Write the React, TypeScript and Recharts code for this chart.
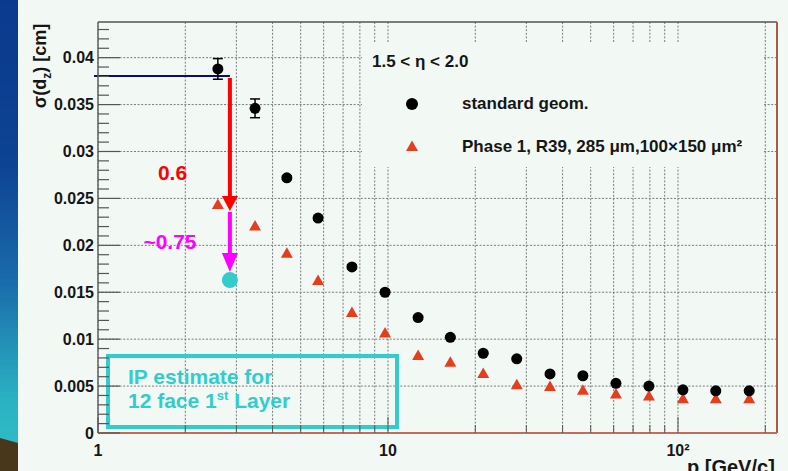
import {
  ScatterChart,
  Scatter,
  XAxis,
  YAxis,
  CartesianGrid,
  ReferenceLine,
  ReferenceArea,
  ReferenceDot,
  ErrorBar,
  Legend,
} from 'recharts';

// momentum bins [GeV/c]
const P_GEV = [2.59, 3.48, 4.48, 5.74, 7.51, 9.77, 12.7, 16.4, 21.3, 27.8, 36.2, 47.0, 61.1, 79.4, 104, 135, 176];
// sigma(d_z) [cm], standard geometry
const SIGMA_STD = [0.0388, 0.0346, 0.0272, 0.0229, 0.0177, 0.015, 0.0123, 0.0102, 0.0085, 0.0079, 0.0063, 0.0061, 0.0053, 0.005, 0.0046, 0.0045, 0.0045];
const ERR_STD = [0.0011, 0.001, 0.0002, 0.0002, 0.0002, 0.0002, 0.0002, 0.0001, 0.0001, 0.0001, 0.0001, 0.0001, 0.0001, 0.0001, 0.0001, 0.0001, 0.0001];
// sigma(d_z) [cm], Phase 1
const SIGMA_PHASE1 = [0.0244, 0.0221, 0.0192, 0.0163, 0.0129, 0.0107, 0.0083, 0.0076, 0.0064, 0.0052, 0.005, 0.0046, 0.0042, 0.004, 0.0037, 0.0037, 0.0037];

const SERIES_NAMES = ['standard geom.', 'Phase 1, R39, 285 \u03bcm,100\u00d7150 \u03bcm\u00b2'];

const X_TICKS = [1, 2, 3, 4, 5, 6, 7, 8, 9, 10, 20, 30, 40, 50, 60, 70, 80, 90, 100, 200];
const X_MAJOR = [1, 10, 100];
const X_MAJOR_LABELS = ['1', '10', '10\u00b2'];
const Y_TICKS = [
  0, 0.001, 0.002, 0.003, 0.004, 0.005, 0.006, 0.007, 0.008, 0.009, 0.01, 0.011, 0.012, 0.013, 0.014,
  0.015, 0.016, 0.017, 0.018, 0.019, 0.02, 0.021, 0.022, 0.023, 0.024, 0.025, 0.026, 0.027, 0.028,
  0.029, 0.03, 0.031, 0.032, 0.033, 0.034, 0.035, 0.036, 0.037, 0.038, 0.039, 0.04, 0.041, 0.042, 0.043,
];
const Y_MAJOR = [0, 0.005, 0.01, 0.015, 0.02, 0.025, 0.03, 0.035, 0.04];
const Y_MAJOR_LABELS = ['0', '0.005', '0.01', '0.015', '0.02', '0.025', '0.03', '0.035', '0.04'];

const X_MAX = 219.5;
const Y_MAX = 0.0438;

// annotation anchors, data coordinates
const ARROW_P = 2.85;
const NAVY_Y = 0.03805;
const NAVY_FROM_P = 0.969;
const RED_TOP = 0.03783;
const RED_BASE = 0.02515;
const RED_TIP = 0.02366;
const MAG_TOP = 0.02355;
const MAG_BASE = 0.01918;
const MAG_TIP = 0.01716;
const IP_ESTIMATE = 0.0163;
const BOX_P = [1.083, 10.74];
const BOX_Y = [0.00064, 0.00821];

const BG = '#f2f9f5';
const RED = '#e63d1d';
const CYAN = '#33cccc';
const MAGENTA = '#ff00ff';
const FONT = '"Liberation Sans", Arial, Helvetica, sans-serif';
const INK = '#161616';

const stdData = P_GEV.map((p, i) => ({ p, sigma: SIGMA_STD[i], err: ERR_STD[i] }));
const phase1Data = P_GEV.map((p, i) => ({ p, sigma: SIGMA_PHASE1[i] }));

function Dot(props: any) {
  const { cx, cy } = props;
  return <circle cx={cx} cy={cy} r={5.5} fill="#000" />;
}

function Tri(props: any) {
  const { cx, cy } = props;
  return <polygon points={`${cx},${cy - 5.5} ${cx + 6},${cy + 5} ${cx - 6},${cy + 5}`} fill={RED} />;
}

function XTick(props: any) {
  const { x, y, payload } = props;
  const idx = X_MAJOR.indexOf(payload.value);
  const len = idx >= 0 ? 16 : 8;
  return (
    <g>
      <line x1={x} y1={y} x2={x} y2={y - len} stroke="#555" strokeWidth={1} />
      {idx >= 0 && (
        <text x={x} y={y + 23} textAnchor="middle" fontFamily={FONT} fontWeight="bold" fontSize={16} fill={INK}>
          {X_MAJOR_LABELS[idx]}
        </text>
      )}
    </g>
  );
}

function YTick(props: any) {
  const { x, y, payload } = props;
  const idx = Y_MAJOR.indexOf(payload.value);
  const len = idx >= 0 ? 22 : 11;
  return (
    <g>
      <line x1={x} y1={y} x2={x + len} y2={y} stroke="#555" strokeWidth={1.2} />
      {idx >= 0 && (
        <text x={x - 4} y={y} dy="0.35em" textAnchor="end" fontFamily={FONT} fontWeight="bold" fontSize={16} fill={INK}>
          {Y_MAJOR_LABELS[idx]}
        </text>
      )}
    </g>
  );
}

function ArrowHead({ cx, cy, color, h, w }: any) {
  return <polygon points={`${cx},${cy} ${cx + w / 2},${cy - h} ${cx - w / 2},${cy - h}`} fill={color} />;
}

function LegendBox() {
  return (
    <div
      style={{
        position: 'relative',
        width: 401,
        height: 125,
        background: BG,
        fontFamily: FONT,
        fontWeight: 'bold',
        fontSize: 17,
        color: INK,
        whiteSpace: 'nowrap',
      }}
    >
      <div style={{ position: 'absolute', left: 10, top: 20, transform: 'translateY(-50%)' }}>
        1.5 &lt; &eta; &lt; 2.0
      </div>
      <svg width={20} height={20} style={{ position: 'absolute', left: 40, top: 52 }}>
        <circle cx={10} cy={10} r={6} fill="#000" />
      </svg>
      <div style={{ position: 'absolute', left: 100, top: 62, transform: 'translateY(-50%)' }}>{SERIES_NAMES[0]}</div>
      <svg width={20} height={20} style={{ position: 'absolute', left: 40, top: 94 }}>
        <polygon points="10,4.5 16,15 4,15" fill={RED} />
      </svg>
      <div style={{ position: 'absolute', left: 100, top: 105, transform: 'translateY(-50%)' }}>{SERIES_NAMES[1]}</div>
    </div>
  );
}

export default function App() {
  return (
    <div
      style={{
        position: 'absolute',
        left: 0,
        top: 0,
        width: 788,
        height: 471,
        overflow: 'hidden',
        background: BG,
      }}
    >
      <svg width={18} height={471} style={{ position: 'absolute', left: 0, top: 0 }}>
        <defs>
          <linearGradient id="slide" x1="0" y1="0" x2="0" y2="1">
            <stop offset="0" stopColor="#0a3a8d" />
            <stop offset="0.35" stopColor="#0d4393" />
            <stop offset="0.6" stopColor="#1a6cab" />
            <stop offset="0.85" stopColor="#2bb2c2" />
            <stop offset="1" stopColor="#2fbfc8" />
          </linearGradient>
        </defs>
        <rect width={18} height={471} fill="url(#slide)" />
        <polygon points="0,438 18,443 18,471 0,471" fill="#48371a" />
      </svg>

      <div style={{ position: 'absolute', left: 0, top: 0 }}>
        <ScatterChart width={788} height={471} margin={{ top: 22, right: 11, bottom: 0, left: 38 }}>
          <CartesianGrid
            yAxisId="main"
            horizontalValues={Y_MAJOR}
            stroke="#7a7a7a"
            strokeDasharray="2 1.6"
          />
          <XAxis
            type="number"
            dataKey="p"
            scale="log"
            domain={[1, X_MAX]}
            ticks={X_TICKS}
            interval={0}
            allowDataOverflow
            height={38}
            tickSize={0}
            tickMargin={0}
            tickLine={false}
            tick={(p: any) => <XTick {...p} />}
            axisLine={{ stroke: '#c26d5b', strokeWidth: 2 }}
          />
          <YAxis
            yAxisId="main"
            type="number"
            dataKey="sigma"
            domain={[0, Y_MAX]}
            ticks={Y_TICKS}
            interval={0}
            allowDataOverflow
            width={60}
            tickSize={0}
            tickMargin={0}
            tickLine={false}
            tick={(p: any) => <YTick {...p} />}
            axisLine={{ stroke: '#666', strokeWidth: 1.5 }}
          />
          <ReferenceLine yAxisId="main" y={Y_MAX} stroke="#555" strokeWidth={1.5} />
          <ReferenceLine yAxisId="main" x={X_MAX} stroke="#b05a45" strokeWidth={2} />

          <ReferenceArea
            yAxisId="main"
            x1={BOX_P[0]}
            x2={BOX_P[1]}
            y1={BOX_Y[0]}
            y2={BOX_Y[1]}
            fill="none"
            fillOpacity={0}
            stroke={CYAN}
            strokeWidth={4}
          />
          <ReferenceDot
            yAxisId="main"
            x={1.269}
            y={0.00522}
            shape={(p: any) => (
              <text x={p.cx} y={p.cy} fontFamily={FONT} fontWeight="bold" fontSize={21} fill={CYAN}>
                <tspan x={p.cx}>IP estimate for</tspan>
                <tspan x={p.cx} dy={24}>12 face 1</tspan>
                <tspan fontSize={13} dy={-8}>st</tspan>
                <tspan dy={8}> Layer</tspan>
              </text>
            )}
          />

          <ReferenceLine
            yAxisId="main"
            segment={[{ x: NAVY_FROM_P, y: NAVY_Y }, { x: ARROW_P, y: NAVY_Y }]}
            stroke="#0b0b6b"
            strokeWidth={2}
            ifOverflow="visible"
          />
          <ReferenceLine
            yAxisId="main"
            segment={[{ x: ARROW_P, y: RED_TOP }, { x: ARROW_P, y: RED_BASE }]}
            stroke="#ff0000"
            strokeWidth={4}
          />
          <ReferenceDot
            yAxisId="main"
            x={ARROW_P}
            y={RED_TIP}
            shape={(p: any) => <ArrowHead cx={p.cx} cy={p.cy} color="#ff0000" h={15} w={16} />}
          />
          <ReferenceLine
            yAxisId="main"
            segment={[{ x: ARROW_P, y: MAG_TOP }, { x: ARROW_P, y: MAG_BASE }]}
            stroke={MAGENTA}
            strokeWidth={4}
          />
          <ReferenceDot
            yAxisId="main"
            x={ARROW_P}
            y={MAG_TIP}
            shape={(p: any) => <ArrowHead cx={p.cx} cy={p.cy} color={MAGENTA} h={19} w={16} />}
          />
          <ReferenceDot yAxisId="main" x={ARROW_P} y={IP_ESTIMATE} r={8} fill={CYAN} stroke="none" />
          <ReferenceDot
            yAxisId="main"
            x={1.807}
            y={0.02771}
            shape={(p: any) => (
              <text x={p.cx} y={p.cy} dy="0.35em" textAnchor="middle" fontFamily={FONT} fontWeight="bold" fontSize={21} fill="#ff0000">
                0.6
              </text>
            )}
          />
          <ReferenceDot
            yAxisId="main"
            x={1.771}
            y={0.02041}
            shape={(p: any) => (
              <text x={p.cx} y={p.cy} dy="0.35em" textAnchor="middle" fontFamily={FONT} fontWeight="bold" fontSize={21} fill={MAGENTA}>
                ~0.75
              </text>
            )}
          />

          <Scatter
            name={SERIES_NAMES[1]}
            yAxisId="main"
            data={phase1Data}
            shape={(p: any) => <Tri {...p} />}
            isAnimationActive={false}
          />
          <Scatter
            name={SERIES_NAMES[0]}
            yAxisId="main"
            data={stdData}
            shape={(p: any) => <Dot {...p} />}
            isAnimationActive={false}
          >
            <ErrorBar dataKey="err" direction="y" width={5} stroke="#000" strokeWidth={1.5} isAnimationActive={false} />
          </Scatter>

          <Legend
            layout="horizontal"
            verticalAlign="middle"
            align="center"
            content={() => <LegendBox />}
            wrapperStyle={{ left: 362, top: 42, width: 401, height: 125 }}
          />
        </ScatterChart>
      </div>

      <svg width={788} height={471} style={{ position: 'absolute', left: 0, top: 0, pointerEvents: 'none' }}>
        <text
          transform="translate(46,66) rotate(-90)"
          textAnchor="middle"
          fontFamily={FONT}
          fontWeight="bold"
          fontSize={18}
          fill={INK}
        >
          {'\u03c3(d'}
          <tspan fontSize={12} dy={5}>z</tspan>
          <tspan dy={-5}>{') [cm]'}</tspan>
        </text>
        <text x={687} y={474} fontFamily={FONT} fontWeight="bold" fontSize={20} fill={INK}>
          p [GeV/c]
        </text>
      </svg>
    </div>
  );
}
